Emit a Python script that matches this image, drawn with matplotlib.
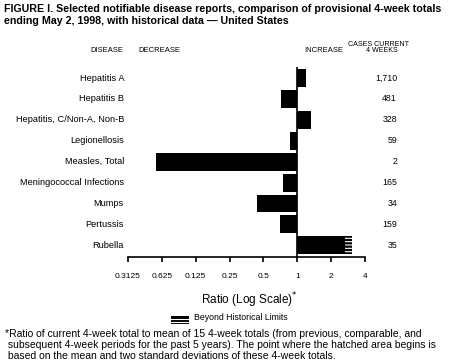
import numpy as np
import matplotlib
matplotlib.use("Agg")
import matplotlib.pyplot as plt
from matplotlib.patches import Rectangle
from matplotlib.lines import Line2D
import matplotlib.transforms as mtransforms

# DATA
diseases = ["Hepatitis A", "Hepatitis B", "Hepatitis, C/Non-A, Non-B",
            "Legionellosis", "Measles, Total", "Meningococcal Infections",
            "Mumps", "Pertussis", "Rubella"]
ratios = [1.19, 0.72, 1.32, 0.86, 0.055, 0.75, 0.44, 0.70, 3.05]
cases = ["1,710", "481", "328", "59", "2", "165", "34", "159", "35"]
# where the hatched area (beyond historical limits) begins, None if not beyond
beyond_start = [None, None, None, None, None, None, None, None, 2.63]

tick_vals = [0.03125, 0.0625, 0.125, 0.25, 0.5, 1, 2, 4]
tick_labels = ["0.3125", "0.625", "0.125", "0.25", "0.5", "1", "2", "4"]

W, H = 450, 364
plt.rcParams["font.family"] = ["Liberation Sans", "DejaVu Sans"]
plt.rcParams["hatch.linewidth"] = 0.8


def fx(px):
    return px / W


def fy(px):
    return 1 - px / H


fig = plt.figure(figsize=(W / 100, H / 100), dpi=100)
fig.patch.set_facecolor("white")

# axis area: x from 0.03125 (px 128) to 4 (px 365), y from px 67 to 257
ax = fig.add_axes([fx(128), fy(257), fx(365) - fx(128), fy(67) - fy(257)])
ax.set_xscale("log", base=2)
ax.set_xlim(tick_vals[0], tick_vals[-1])
ax.set_ylim(len(diseases) - 1 + 0.56, -0.53)

y = np.arange(len(diseases))
for i, r in enumerate(ratios):
    end = r if beyond_start[i] is None else beyond_start[i]
    left = min(1, end)
    ax.barh(y[i], abs(end - 1), left=left, height=0.86, color="black", lw=0)
    if beyond_start[i] is not None:
        # hatched part = beyond historical limits
        ax.barh(y[i], r - beyond_start[i], left=beyond_start[i], height=0.86,
                facecolor="black", edgecolor="white", hatch="-----", lw=0)

ax.axvline(1, color="black", lw=1.2)

for s in ["top", "right", "left"]:
    ax.spines[s].set_visible(False)
ax.spines["bottom"].set_linewidth(1.2)
ax.set_yticks([])
ax.set_xticks(tick_vals)
ax.set_xticklabels(tick_labels, fontsize=6)
ax.minorticks_off()
ax.tick_params(axis="x", direction="out", length=3.5, width=1.2, pad=8)

# row labels and case counts
trans = mtransforms.blended_transform_factory(fig.transFigure, ax.transData)
for i in range(len(diseases)):
    fig.text(fx(124), y[i], diseases[i], transform=trans, ha="right",
             va="center", fontsize=6.7)
    fig.text(fx(397), y[i], cases[i], transform=trans, ha="right",
             va="center", fontsize=6.3)

# headers
fig.text(fx(123), fy(50), "DISEASE", ha="right", va="center", fontsize=5.5)
fig.text(fx(138), fy(50), "DECREASE", ha="left", va="center", fontsize=5.5)
fig.text(fx(343), fy(50), "INCREASE", ha="right", va="center", fontsize=5.5)
fig.text(fx(379), fy(44.5), "CASES CURRENT", ha="center", va="center", fontsize=5.1)
fig.text(fx(382), fy(51), "4 WEEKS", ha="center", va="center", fontsize=5.1)

# title
fig.text(fx(4), fy(9.5), "FIGURE I. Selected notifiable disease reports, comparison of provisional 4-week totals",
         ha="left", va="center", fontsize=7.7, fontweight="bold")
fig.text(fx(4), fy(21), "ending May 2, 1998, with historical data \u2014 United States",
         ha="left", va="center", fontsize=7.7, fontweight="bold")

# axis title
fig.text(fx(249), fy(300), "Ratio (Log Scale)$^{*}$", ha="center", va="center", fontsize=8.5)

# legend
fig.patches.append(Rectangle((fx(171), fy(324)), fx(18), 8 / H, transform=fig.transFigure,
                             facecolor="black", edgecolor="none"))
for yy in [318.8, 321.8]:
    fig.lines.append(Line2D([fx(171), fx(189)], [fy(yy), fy(yy)], transform=fig.transFigure,
                            color="white", lw=0.8))
fig.text(fx(194), fy(318), "Beyond Historical Limits", ha="left", va="center", fontsize=6.3)

# footnote
foot = ["*Ratio of current 4-week total to mean of 15 4-week totals (from previous, comparable, and",
        " subsequent 4-week periods for the past 5 years). The point where the hatched area begins is",
        " based on the mean and two standard deviations of these 4-week totals."]
for k, line in enumerate(foot):
    fig.text(fx(5), fy(334 + 11 * k), line, ha="left", va="center", fontsize=7.5)

fig.savefig("out.png", dpi=100)
